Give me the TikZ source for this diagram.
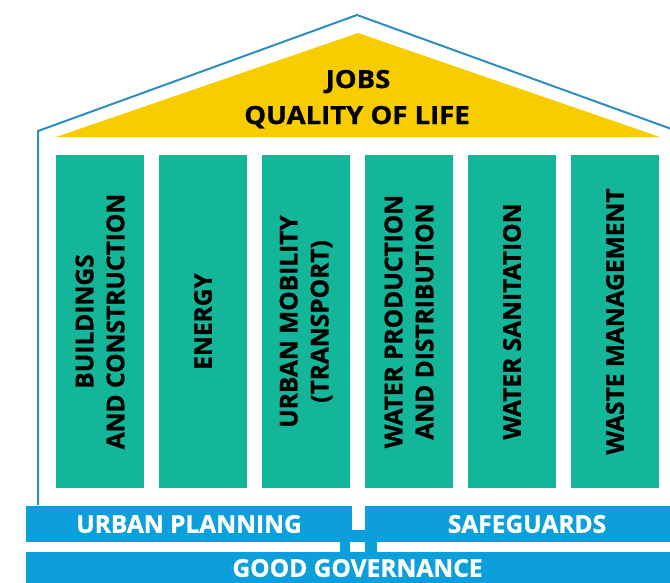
\documentclass[tikz,border=0pt]{standalone}
\usepackage{fontspec}
\setsansfont{Open Sans}[BoldFeatures={FakeBold=1}]
\newfontfamily\rooffont{Open Sans}[BoldFeatures={FakeBold=1}, FakeStretch=1.1]
\usepackage{tikz}
\definecolor{roofline}{HTML}{2E8EC0}
\definecolor{roofyellow}{HTML}{F7CD00}
\definecolor{pillarteal}{HTML}{14B69A}
\definecolor{barblue}{HTML}{0C9FDC}
\tikzset{
	pillar/.style={fill=pillarteal, rotate=90, minimum width=333pt, minimum height=88pt, inner sep=0pt, align=center, text=black, font=\sffamily\bfseries\fontsize{24.5}{31}\selectfont},
	bar/.style={fill=barblue, inner sep=0pt, minimum height=36pt, text=white, font=\sffamily\bfseries\fontsize{24.5}{29}\selectfont},
	rooftext/.style={anchor=base, inner sep=0pt, text=black, font=\rooffont\bfseries\fontsize{25}{29}\selectfont}
}
\begin{document}
\begin{tikzpicture}[x=1pt, y=-1pt]
	
	\useasboundingbox (0,0) rectangle (670,582);
	\draw[roofline, line width=2pt](38,505)--(38,131)--(357,15)--(677,131)--(677,505);
	\fill[roofyellow](56,137)--(358,33)--(660,137)--cycle;
	\node[rooftext] (jobs) at (358,88){JOBS};
	\node[rooftext] (life) at (357,124){QUALITY OF LIFE};
	\node[pillar] (buildings) at (100,321.5){BUILDINGS\\AND CONSTRUCTION};
	\node[pillar] (energy) at (203,321.5){ENERGY};
	\node[pillar] (mobility) at (306,321.5){URBAN MOBILITY\\(TRANSPORT)};
	\node[pillar] (water) at (409,321.5){WATER PRODUCTION\\AND DISTRIBUTION};
	\node[pillar] (sanitation) at (512,321.5){WATER SANITATION};
	\node[pillar] (waste) at (615,321.5){WASTE MANAGEMENT};
	\node[bar, minimum width=326pt] (planning) at (189,524){URBAN PLANNING};
	\node[bar, minimum width=324pt] (safeguards) at (527,524){SAFEGUARDS};
	\fill[barblue](352,530) rectangle (365,542);
	\fill[barblue](340,541) rectangle (350,553);
	\fill[barblue](365,541) rectangle (377,553);
	\node[bar, minimum width=663pt, minimum height=32pt] (governance) at (357.5,568){GOOD GOVERNANCE};
	\end{tikzpicture}
\end{document}
